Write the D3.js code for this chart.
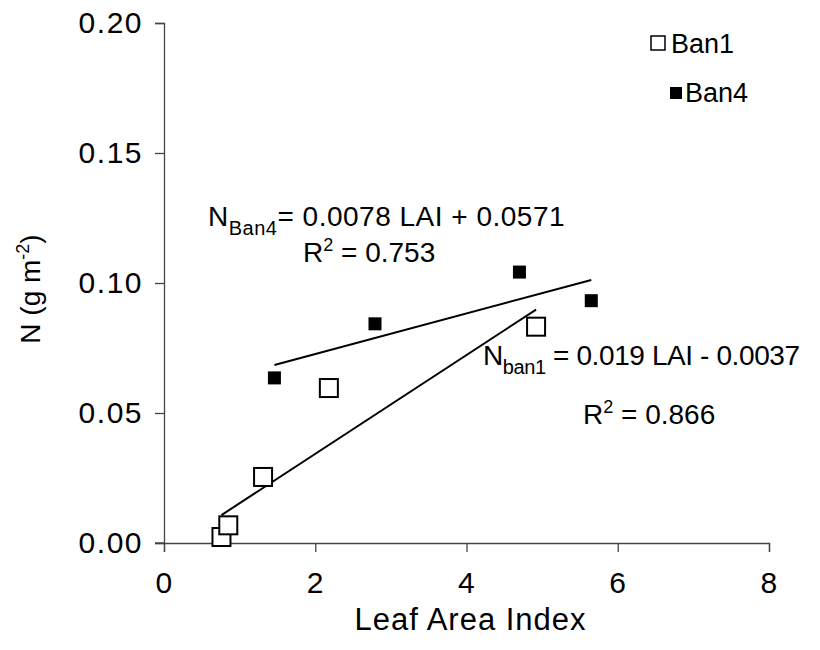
<html>
<head>
<style>
  body { margin: 0; background: #fff; }
  text { font-family: "Liberation Sans", Arial, sans-serif; fill: #000; }
</style>
</head>
<body>
<svg id="chart" width="820" height="650"></svg>
<script src="https://d3js.org/d3.v7.min.js"></script>
<script>
  // data
  var ban1X = [0.76, 0.85, 1.31, 2.18, 4.92];
  var ban1Y = [0.0023, 0.0068, 0.0254, 0.0596, 0.0832];
  var ban4X = [1.46, 2.79, 4.70, 5.65];
  var ban4Y = [0.0635, 0.0843, 0.1042, 0.0932];
  // regression coefficients printed on the chart
  var fit1 = { slope: 0.019, icpt: -0.0037 };
  var fit4 = { slope: 0.0078, icpt: 0.0571 };
  var xTicks = [0, 2, 4, 6, 8];
  var yTicks = [0, 0.05, 0.10, 0.15, 0.20];

  var margin = { top: 23, right: 51, bottom: 107, left: 164 },
      width = 820 - margin.left - margin.right,
      height = 650 - margin.top - margin.bottom;

  var svg = d3.select("#chart");
  var g = svg.append("g")
    .attr("transform", "translate(" + margin.left + "," + margin.top + ")");

  var x = d3.scaleLinear().domain([0, 8]).range([0, width]);
  var y = d3.scaleLinear().domain([0, 0.2]).range([height, 0]);

  // axes
  var xAxis = g.append("g")
    .attr("transform", "translate(0," + height + ")")
    .call(d3.axisBottom(x).tickValues(xTicks).tickSize(9).tickPadding(20));
  var yAxis = g.append("g")
    .call(d3.axisLeft(y).tickValues(yTicks).tickFormat(d3.format(".2f")).tickSize(9).tickPadding(12));

  [xAxis, yAxis].forEach(function(a) {
    a.select(".domain").attr("stroke", "#444").attr("stroke-width", 1.3);
    a.selectAll(".tick line").attr("stroke", "#444").attr("stroke-width", 1.3);
    a.selectAll("text")
      .style("font-size", "30px")
      .style("font-family", "Liberation Sans, Arial, sans-serif")
      .style("letter-spacing", "1.5px")
      .attr("fill", "#000");
  });
  // extend x axis to the left like the original
  g.append("line")
    .attr("x1", -9).attr("x2", 0)
    .attr("y1", height).attr("y2", height)
    .attr("stroke", "#444").attr("stroke-width", 1.3);

  // axis titles
  g.append("text")
    .attr("x", width / 2 + 4)
    .attr("y", height + 87)
    .attr("text-anchor", "middle")
    .style("font-size", "31px")
    .style("letter-spacing", "1px")
    .text("Leaf Area Index");

  var yl = g.append("text")
    .attr("transform", "translate(-124," + (height / 2 + 6) + ") rotate(-90)")
    .attr("text-anchor", "middle")
    .style("font-size", "28px");
  yl.append("tspan").text("N (g m");
  yl.append("tspan").attr("dy", -11).style("font-size", "18px").text("-2");
  yl.append("tspan").attr("dy", 11).text(")");

  // trend lines
  function fitLine(xs, fit) {
    var x0 = d3.min(xs), x1 = d3.max(xs);
    return [[x0, fit.slope * x0 + fit.icpt], [x1, fit.slope * x1 + fit.icpt]];
  }
  var line = d3.line().x(function(d) { return x(d[0]); }).y(function(d) { return y(d[1]); });

  g.append("path").datum(fitLine(ban4X, fit4))
    .attr("d", line).attr("fill", "none").attr("stroke", "#000").attr("stroke-width", 2);
  g.append("path").datum(fitLine(ban1X, fit1))
    .attr("d", line).attr("fill", "none").attr("stroke", "#000").attr("stroke-width", 2);

  // points
  var s1 = 18, s4 = 13;
  g.selectAll(".ban1")
    .data(ban1X.map(function(v, i) { return [v, ban1Y[i]]; }))
    .enter().append("rect")
    .attr("x", function(d) { return x(d[0]) - s1 / 2; })
    .attr("y", function(d) { return y(d[1]) - s1 / 2; })
    .attr("width", s1).attr("height", s1)
    .attr("fill", "#fff").attr("stroke", "#000").attr("stroke-width", 2);

  g.selectAll(".ban4")
    .data(ban4X.map(function(v, i) { return [v, ban4Y[i]]; }))
    .enter().append("rect")
    .attr("x", function(d) { return x(d[0]) - s4 / 2; })
    .attr("y", function(d) { return y(d[1]) - s4 / 2; })
    .attr("width", s4).attr("height", s4)
    .attr("fill", "#000");

  // equations
  function eq(xp, yp, sub, rest, sp) {
    var t = svg.append("text").attr("x", xp).attr("y", yp)
      .style("font-size", "28px").style("letter-spacing", sp + "px");
    t.append("tspan").text("N");
    t.append("tspan").attr("dy", 9).style("font-size", "20px").text(sub);
    t.append("tspan").attr("dy", -9).text(rest);
  }
  function r2(xp, yp, val) {
    var t = svg.append("text").attr("x", xp).attr("y", yp).style("font-size", "28px");
    t.append("tspan").text("R");
    t.append("tspan").attr("dy", -11).style("font-size", "18px").text("2");
    t.append("tspan").attr("dy", 11).text(" = " + val);
  }
  eq(208, 226, "Ban4", "= 0.0078 LAI + 0.0571", 0.5);
  r2(303, 262, "0.753");
  eq(483, 365, "ban1", " = 0.019 LAI - 0.0037", -0.4);
  r2(583, 424, "0.866");

  // legend
  svg.append("rect").attr("x", 651).attr("y", 36).attr("width", 14).attr("height", 14)
    .attr("fill", "#fff").attr("stroke", "#000").attr("stroke-width", 1.5);
  svg.append("text").attr("x", 671).attr("y", 53).style("font-size", "27px").text("Ban1");
  svg.append("rect").attr("x", 670).attr("y", 87).attr("width", 12).attr("height", 12)
    .attr("fill", "#000");
  svg.append("text").attr("x", 685).attr("y", 102).style("font-size", "27px").text("Ban4");
</script>
</body>
</html>
